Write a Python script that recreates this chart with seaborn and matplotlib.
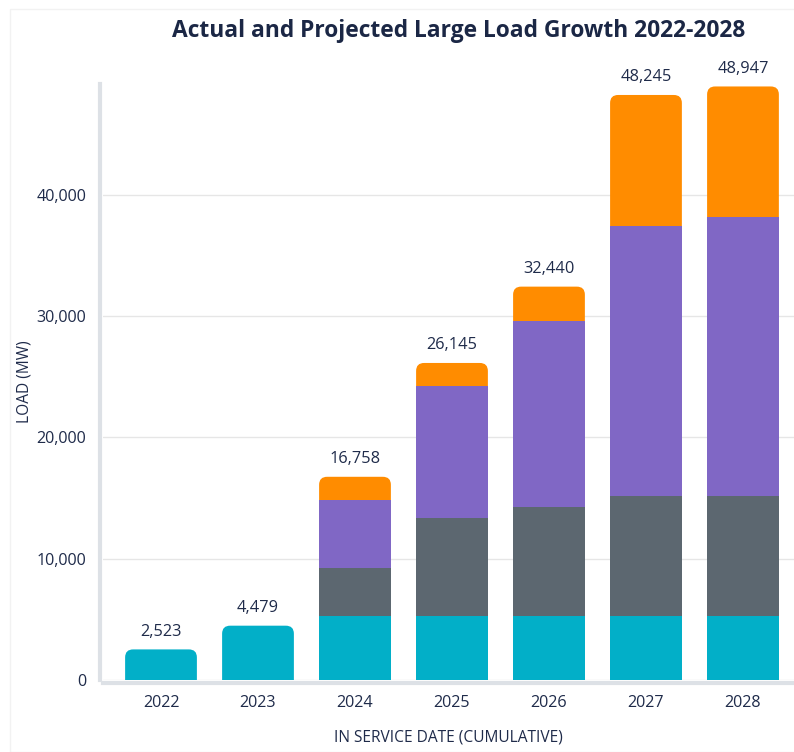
import matplotlib
matplotlib.use("Agg")
import matplotlib.pyplot as plt
from matplotlib.patches import FancyBboxPatch, Rectangle
from matplotlib.ticker import FuncFormatter
import pandas as pd
import seaborn as sns

# Load by in-service year (MW), stacked segments from bottom to top
years = ["2022", "2023", "2024", "2025", "2026", "2027", "2028"]
teal_mw = [2523, 4479, 5300, 5300, 5300, 5300, 5300]
gray_mw = [0, 0, 3950, 8080, 8940, 9900, 9900]
purple_mw = [0, 0, 5600, 10890, 15370, 22240, 22960]
orange_mw = [0, 0, 1908, 1875, 2830, 10805, 10787]
totals = [2523, 4479, 16758, 26145, 32440, 48245, 48947]

y_ticks = [0, 10000, 20000, 30000, 40000]

colors = {
    "teal": "#02AFC8",
    "gray": "#5C6770",
    "purple": "#8067C5",
    "orange": "#FF8C00",
}
text_color = "#1F2B4A"

sns.set_theme(style="white")
plt.rcParams["font.family"] = ["Open Sans", "DejaVu Sans"]

fig = plt.figure(figsize=(7.94, 7.52), dpi=100)
ax = fig.add_axes([103 / 794, 72 / 752, 1 - 103 / 794, (680 - 84) / 752])

# Cumulative heights, drawn tallest first so lower segments sit over them
layers = [("teal", teal_mw), ("gray", gray_mw), ("purple", purple_mw), ("orange", orange_mw)]
cum = [0] * len(years)
stack = []
for name, vals in layers:
    cum = [c + v for c, v in zip(cum, vals)]
    stack.append((name, list(vals), list(cum)))

round_patches = []
square_patches = []
for name, vals, cvals in reversed(stack):
    df = pd.DataFrame({"year": years, "seg": vals, "cum": cvals, "total": totals})
    df = df[df["seg"] > 0]
    n0 = len(ax.patches)
    sns.barplot(data=df, x="year", y="cum", order=years, color=colors[name],
                width=0.74, linewidth=0, saturation=1, errorbar=None, ax=ax)
    for p in ax.patches[n0:]:
        idx = int(round(p.get_x() + p.get_width() / 2))
        if cvals[idx] == totals[idx]:
            round_patches.append(p)
        else:
            square_patches.append(p)

ax.set_xlim(-0.598, 6.526)
ax.set_ylim(0, 49150)

# Give the top of each stack rounded corners (radius in pixels)
radius_px = 8
fig.canvas.draw()
x_per_px = (ax.get_xlim()[1] - ax.get_xlim()[0]) / ax.bbox.width
y_per_px = (ax.get_ylim()[1] - ax.get_ylim()[0]) / ax.bbox.height
rx = radius_px * x_per_px
ry = radius_px * y_per_px
base_z = 2
for p in round_patches:
    x, w, h = p.get_x(), p.get_width(), p.get_height()
    fc = p.get_facecolor()
    p.set_visible(False)
    fb = FancyBboxPatch((x, -ry), w, h + ry,
                        boxstyle=f"round,pad=0,rounding_size={rx}",
                        mutation_aspect=ry / rx, facecolor=fc,
                        edgecolor="none", linewidth=0, zorder=base_z)
    ax.add_patch(fb)
# Lower segments stay above the rounded stack tops
for p in square_patches:
    p.set_zorder(base_z + 0.1)

# Value labels above each bar
for i, t in enumerate(totals):
    ax.annotate(f"{t:,}", xy=(i, t), xytext=(0, 7), textcoords="offset points",
                ha="center", va="bottom", fontsize=11.8, color=text_color)

# Axes styling
ax.set_yticks(y_ticks)
ax.yaxis.set_major_formatter(FuncFormatter(lambda v, _: f"{int(v):,}"))
ax.yaxis.grid(True, color="#E6E6E6", linewidth=1)
ax.xaxis.grid(False)
ax.set_axisbelow(True)
for side in ["top", "right"]:
    ax.spines[side].set_visible(False)
for side in ["left", "bottom"]:
    ax.spines[side].set_color("#DDE1E6")
    ax.spines[side].set_linewidth(3)
    ax.spines[side].set_position(("outward", 2))
ax.tick_params(axis="both", length=0, labelsize=11.6, colors=text_color)
ax.tick_params(axis="y", pad=10)
ax.tick_params(axis="x", pad=9)

ax.set_xlabel("IN SERVICE DATE (CUMULATIVE)", fontsize=11.2, color=text_color, labelpad=13)
ax.set_ylabel("LOAD (MW)", fontsize=11.2, color=text_color, labelpad=3)

fig.text(0.577, 1 - 31 / 752, "Actual and Projected Large Load Growth 2022-2028",
         ha="center", va="center", fontsize=16.4, fontweight="bold", color="#1B2745")

# Faint card outline
fig.patches.append(Rectangle((0.012, 0.0), 0.99, 0.988, transform=fig.transFigure,
                             fill=False, edgecolor="#F2F2F2", linewidth=1, zorder=0))

fig.savefig("out.png", dpi=100)
